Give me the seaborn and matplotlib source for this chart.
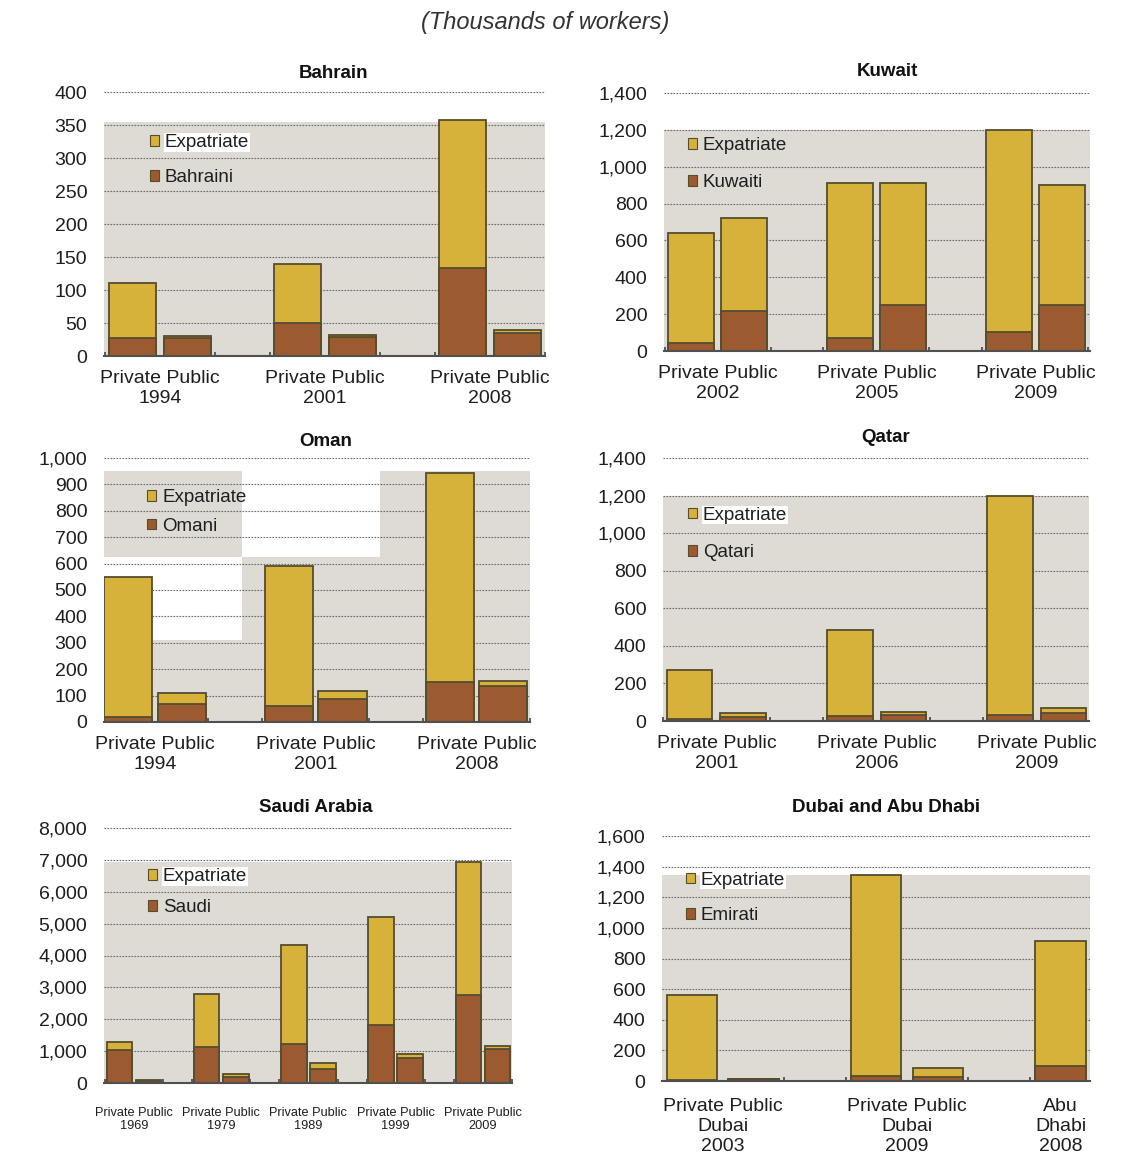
import matplotlib
matplotlib.use("Agg")
import matplotlib.pyplot as plt
from matplotlib.patches import Patch, Rectangle
from matplotlib.ticker import FuncFormatter, FixedLocator
import seaborn as sns
import pandas as pd

sns.set_theme(style="white")
plt.rcParams["font.family"] = ["Liberation Sans", "DejaVu Sans"]

# ---------------- data (thousands of workers) ----------------
# bars are listed group by group: private then public
bahrain_groups = ["1994", "2001", "2008"]
bahrain_total = [110, 30, 140, 32, 357, 40]
bahrain_national = [28, 27, 50, 29, 133, 35]

kuwait_groups = ["2002", "2005", "2009"]
kuwait_total = [640, 720, 910, 910, 1200, 900]
kuwait_national = [45, 215, 70, 250, 105, 250]

oman_groups = ["1994", "2001", "2008"]
oman_total = [548, 108, 592, 118, 945, 155]
oman_national = [20, 70, 60, 88, 150, 135]

qatar_groups = ["2001", "2006", "2009"]
qatar_total = [270, 40, 485, 48, 1200, 68]
qatar_national = [12, 20, 25, 30, 30, 40]

saudi_groups = ["1969", "1979", "1989", "1999", "2009"]
saudi_total = [1300, 80, 2780, 280, 4330, 620, 5200, 920, 6920, 1170]
saudi_national = [1050, 60, 1120, 200, 1230, 450, 1820, 800, 2750, 1080]

uae_groups = ["Dubai\n2003", "Dubai\n2009", "Abu\nDhabi\n2008"]
uae_bars_per_group = [2, 2, 1]
uae_total = [560, 15, 1345, 85, 915]
uae_national = [5, 10, 30, 25, 95]

# ---------------- style ----------------
EXPAT = "#d6b23a"
NATIONAL = "#9b5a2f"
EDGE = "#554d2e"
PANEL_BG = "#dedbd5"
GRID = "#6a6a6a"
TEXT = "#1e1e1e"

W, H = 1141, 1156
fig = plt.figure(figsize=(W / 100, H / 100), dpi=100)
fig.patch.set_facecolor("white")


def rect(l, t, r, b):
    return [l / W, 1 - b / H, (r - l) / W, (b - t) / H]


def fx(px):
    return px / W


def fy(py):
    return 1 - py / H


def panel(box, title, title_xy, nat_label, groups, totals, nationals, ymax, ystep,
          xlim, width, legend_xy, legend_spacing, bars_per_group=None,
          xfont=14, xpad=10, xspacing=1.25, bg_top=None, white_expat=False):
    ax = fig.add_axes(rect(*box))
    ax.set_facecolor("white")
    if bars_per_group is None:
        bars_per_group = [2] * len(groups)

    xs, centers, labels, edges = [], [], [], []
    for gi, n in enumerate(bars_per_group):
        for b in range(n):
            xs.append(3 * gi + b)
        centers.append(3 * gi + (n - 1) / 2)
        labels.append(("Private Public\n" if n == 2 else "") + groups[gi])
        edges += [3 * gi + b - 0.5 for b in range(n + 1)]

    df = pd.DataFrame({"pos": xs, "total": totals, "national": nationals})

    # panel backdrop
    if bg_top is not None:
        ax.axhspan(0, bg_top, color=PANEL_BG, zorder=0, lw=0)

    sns.barplot(data=df, x="pos", y="total", native_scale=True, width=width,
                color=EXPAT, saturation=1, edgecolor=EDGE, linewidth=1.3,
                errorbar=None, ax=ax, zorder=2)
    sns.barplot(data=df, x="pos", y="national", native_scale=True, width=width,
                color=NATIONAL, saturation=1, edgecolor=EDGE, linewidth=1.3,
                errorbar=None, ax=ax, zorder=3)

    ax.set_xlim(*xlim)
    ax.set_ylim(0, ymax)
    ax.set_xlabel("")
    ax.set_ylabel("")

    yt = list(range(0, ymax + 1, ystep))
    ax.set_yticks(yt)
    ax.yaxis.set_major_formatter(FuncFormatter(lambda v, _: f"{int(v):,}"))
    for v in yt[1:]:
        ax.axhline(v, color=GRID, lw=0.8, ls=(0, (1.5, 1.2)), zorder=1)

    ax.set_xticks(centers)
    ax.set_xticklabels(labels, fontsize=xfont, color=TEXT, linespacing=xspacing)
    ax.xaxis.set_minor_locator(FixedLocator(edges))
    ax.tick_params(axis="x", which="major", length=0, pad=xpad)
    ax.tick_params(axis="x", which="minor", length=3, width=1.2, direction="in",
                   color="#444444", bottom=True)
    ax.tick_params(axis="y", length=0, pad=12, labelsize=14, labelcolor=TEXT)

    for s in ["top", "right", "left"]:
        ax.spines[s].set_visible(False)
    ax.spines["bottom"].set_color("#505050")
    ax.spines["bottom"].set_linewidth(1.5)
    ax.spines["bottom"].set_zorder(4)

    fig.text(fx(title_xy[0]), fy(title_xy[1]), title, ha="center", va="center",
             fontsize=13.5, fontweight="bold", color="#111111")

    handles = [Patch(facecolor=EXPAT, edgecolor=EDGE, lw=0.8),
               Patch(facecolor=NATIONAL, edgecolor=EDGE, lw=0.8)]
    leg = ax.legend(handles, ["Expatriate", nat_label], loc="center left",
                    bbox_to_anchor=(fx(legend_xy[0]), fy(legend_xy[1])),
                    bbox_transform=fig.transFigure, frameon=False, fontsize=13.5,
                    handlelength=0.5, handleheight=0.5, handletextpad=0.3,
                    labelspacing=legend_spacing, borderpad=0, borderaxespad=0)
    for t in leg.get_texts():
        t.set_color(TEXT)
    if white_expat:
        leg.get_texts()[0].set_bbox(dict(facecolor="white", edgecolor="none", pad=0.6))
    return ax


fig.text(0.478, fy(22), "(Thousands of workers)", ha="center", va="center",
         fontsize=17, style="italic", color="#333333")

panel((104, 92, 545, 356), "Bahrain", (334, 73), "Bahraini", bahrain_groups,
      bahrain_total, bahrain_national, 400, 50, (-0.52, 7.5), 0.85,
      (150, 160), 0.95, bg_top=355, white_expat=True)

panel((664, 93, 1090, 351), "Kuwait", (887, 71), "Kuwaiti", kuwait_groups,
      kuwait_total, kuwait_national, 1400, 200, (-0.51, 7.53), 0.87,
      (688, 164), 1.05, bg_top=1200)

ax_om = panel((104, 458, 530, 722), "Oman", (326, 441), "Omani", oman_groups,
              oman_total, oman_national, 1000, 100, (-0.45, 7.5), 0.9,
              (147, 512), 0.6, bg_top=310)
# backdrop blocks above the lower band
for x0, x1, y0, y1 in [(-0.45, 2.13, 625, 950), (2.13, 4.71, 310, 625),
                       (4.71, 7.5, 310, 950)]:
    ax_om.add_patch(Rectangle((x0, y0), x1 - x0, y1 - y0, facecolor=PANEL_BG,
                              lw=0, zorder=0))

panel((663, 458, 1089, 721), "Qatar", (886, 438), "Qatari", qatar_groups,
      qatar_total, qatar_national, 1400, 200, (-0.5, 7.48), 0.85,
      (688, 534), 1.1, bg_top=1200, white_expat=True)

panel((104, 828, 512, 1083), "Saudi Arabia", (316, 808), "Saudi", saudi_groups,
      saudi_total, saudi_national, 8000, 1000, (-0.53, 13.5), 0.88,
      (148, 892), 0.75, xfont=9.2, xpad=17, xspacing=1.1, bg_top=6930,
      white_expat=True)

panel((662, 836, 1090, 1081), "Dubai and Abu Dhabi", (886, 807), "Emirati",
      uae_groups, uae_total, uae_national, 1600, 200, (-0.49, 6.48), 0.82,
      (686, 898), 1.0, bars_per_group=uae_bars_per_group, xpad=12,
      bg_top=1343, white_expat=True)

fig.savefig("out.png", dpi=100, facecolor="white")
